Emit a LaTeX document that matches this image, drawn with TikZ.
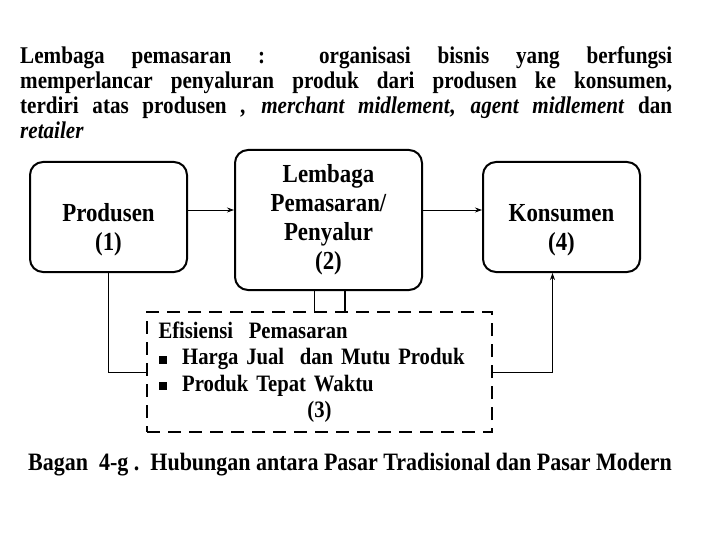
\documentclass[tikz,border=0pt]{standalone}
\usepackage{fontspec}
\setmainfont[FakeStretch=0.88]{Liberation Serif}
\usetikzlibrary{arrows.meta, positioning, calc}

\begin{document}
\begin{tikzpicture}[
    x=1pt, y=-1pt,
    box/.style={rectangle, draw=black, line width=2pt, rounded corners=13pt, align=center, font=\fontsize{26}{29}\selectfont\bfseries},
    dashbox/.style={rectangle, draw=black, line width=2.2pt, dash pattern=on 13pt off 8pt, align=left, text width=322pt, font=\fontsize{23.5}{26.5}\selectfont\bfseries},
    link/.style={line width=0.8pt, black},
    arrow/.style={-{Stealth[length=7pt,width=5pt]}, line width=0.8pt, black}
]
\useasboundingbox (0,0) rectangle (720,540);

% Intro paragraph and caption
\node[anchor=north west, text width=652pt, align=justify, inner sep=0pt, font=\fontsize{24}{25}\selectfont\bfseries] (intro) at (20,46)
  {Lembaga pemasaran :\ \ organisasi bisnis yang berfungsi\linebreak
   memperlancar penyaluran produk dari produsen ke konsumen,\linebreak
   terdiri atas produsen , \textit{merchant midlement}, \textit{agent midlement} dan\linebreak
   \textit{retailer}};
\node[anchor=base west, inner sep=0pt, font=\fontsize{25}{25}\selectfont\bfseries] (caption) at (28,470)
  {Bagan\ \ 4-g .\ \ Hubungan antara Pasar Tradisional dan Pasar Modern};

% Main boxes
\node[box, minimum width=157pt, minimum height=110pt] (produsen) at (108.5,217) {\rule{0pt}{44pt}Produsen\\(1)};
\node[box, minimum width=187pt, minimum height=140pt] (lembaga)  at (328.5,220) {Lembaga\\Pemasaran/\\Penyalur\\(2)};
\node[box, minimum width=157pt, minimum height=110pt] (konsumen) at (561.5,217) {\rule{0pt}{44pt}Konsumen\\(4)};
\node[dashbox, minimum width=345pt, minimum height=120pt] (efisiensi) at (319.5,372)
  {Efisiensi\ \ Pemasaran\\
   \rule[1pt]{8pt}{8pt}\ \ Harga Jual\ \ dan Mutu Produk\\
   \rule[1pt]{8pt}{8pt}\ \ Produk Tepat Waktu\\
   \hspace*{0pt}\hfill(3)\hfill\hspace*{0pt}};

% Connectors
\draw[arrow] ([yshift=7pt]produsen.east) -- ([yshift=7pt]produsen.east -| lembaga.west);
\draw[arrow] ([yshift=10pt]lembaga.east) -- ([yshift=10pt]lembaga.east -| konsumen.west);
\draw[link] (produsen.south) |- (efisiensi.west);
\draw[arrow] (efisiensi.east) -| ([xshift=-9pt]konsumen.south);
\draw[link] ([xshift=-14.5pt]lembaga.south) -- ([xshift=-14.5pt]lembaga.south |- efisiensi.north);
\draw[link, line width=1.6pt] ([xshift=16.5pt]lembaga.south) -- ([xshift=16.5pt]lembaga.south |- efisiensi.north);

\end{tikzpicture}
\end{document}
